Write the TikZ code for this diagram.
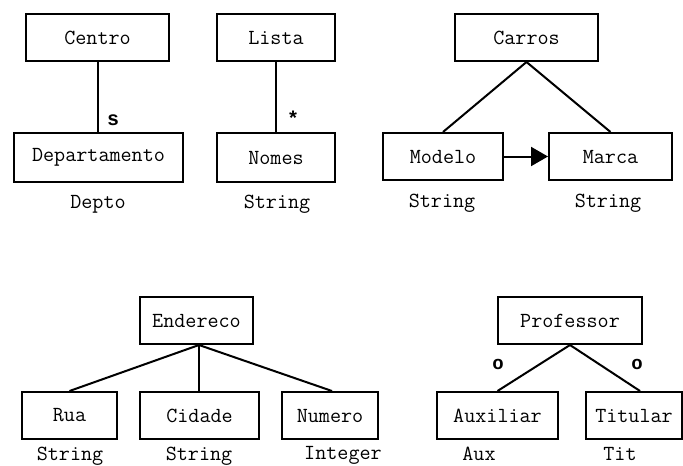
\documentclass[tikz,border=0pt]{standalone}
\usepackage{fontspec}
\newfontfamily\markfont{Liberation Mono}
\usetikzlibrary{arrows.meta,calc}
\begin{document}
\begin{tikzpicture}[x=1pt,y=-1pt,
  every node/.style={font=\ttfamily\fontsize{21.5}{24}\selectfont, inner sep=0pt},
  entity/.style={draw, line width=2pt, minimum height=47pt},
  link/.style={line width=2pt},
  typelabel/.style={anchor=base},
  rolemark/.style={font=\markfont\bfseries\fontsize{20}{22}\selectfont},
  ringmark/.style={font=\markfont\bfseries\fontsize{19}{20}\selectfont}]
\useasboundingbox (0,0) rectangle (683,466);

% Centro / Departamento
\node[entity, minimum width=143pt] (centro) at (97.5,37.5) {Centro};
\node[entity, minimum width=169pt, minimum height=49pt] (depto) at (98.5,157.5) {Departamento};
\draw[link] (centro.south) -- (centro.south |- depto.north);
\node[rolemark] (s) at (113,120) {s};
\node[typelabel] (deptotype) at (98,208) {Depto};

% Lista / Nomes
\node[entity, minimum width=118pt] (lista) at (276,37.5) {Lista};
\node[entity, minimum width=118pt, minimum height=49pt] (nomes) at (276,157.5) {Nomes};
\draw[link] (lista.south) -- (nomes.north);
\node[rolemark] (star) at (293,118) {*};
\node[typelabel] (nomestype) at (277,208) {String};

% Carros / Modelo / Marca
\node[entity, minimum width=143pt] (carros) at (526.5,37.5) {Carros};
\node[entity, minimum width=120pt] (modelo) at (443,156.5) {Modelo};
\node[entity, minimum width=123pt] (marca) at (610.5,156.5) {Marca};
\draw[link] (carros.south) -- (modelo.north);
\draw[link] (carros.south) -- (marca.north);
\draw[link, -{Triangle[length=17pt,width=19pt]}] (modelo.east) -- (marca.west);
\node[typelabel] (modelotype) at (442,207) {String};
\node[typelabel] (marcatype) at (608,207) {String};

% Endereco / Rua / Cidade / Numero
\node[entity, minimum width=113pt] (endereco) at (196.5,320.5) {Endereco};
\node[entity, minimum width=95pt] (rua) at (69.5,415.5) {Rua};
\node[entity, minimum width=119pt] (cidade) at (199.5,415.5) {Cidade};
\node[entity, minimum width=96pt] (numero) at (330,415.5) {Numero};
\coordinate (endbase) at ($(endereco.south)+(2.5,0)$);
\draw[link] (endbase) -- (rua.north);
\draw[link] (endbase) -- (endbase |- cidade.north);
\draw[link] (endbase) -- ($(numero.north)+(2,0)$);
\node[typelabel] (ruatype) at (70,460) {String};
\node[typelabel] (cidadetype) at (199,460) {String};
\node[typelabel] (numerotype) at (343,459) {Integer};

% Professor / Auxiliar / Titular
\node[entity, minimum width=144pt] (professor) at (570,320.5) {Professor};
\node[entity, minimum width=121pt] (auxiliar) at (497.5,415.5) {Auxiliar};
\node[entity, minimum width=96pt] (titular) at (634,415.5) {Titular};
\draw[link] (professor.south) -- (auxiliar.north);
\draw[link] (professor.south) -- ($(titular.north)+(6,0)$);
\node[ringmark] (oaux) at (498,364) {o};
\node[ringmark] (otit) at (637,364) {o};
\node[typelabel] (auxtype) at (479,460) {Aux};
\node[typelabel] (tittype) at (620,460) {Tit};
\end{tikzpicture}
\end{document}
